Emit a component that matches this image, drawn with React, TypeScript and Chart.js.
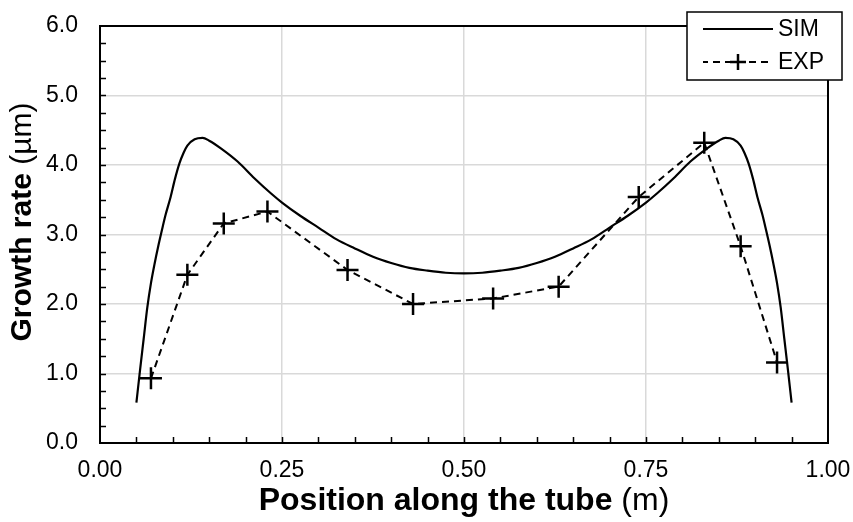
import React, { useEffect, useRef } from "react";
import { Chart, registerables } from "chart.js";

Chart.register(...registerables);

// ---- Data ----
const SIM_X = [
  0.05, 0.055, 0.06, 0.065, 0.07, 0.075, 0.08, 0.085, 0.09, 0.097, 0.103, 0.109, 0.115, 0.12, 0.13, 0.141,
  0.15, 0.166, 0.189, 0.212, 0.235, 0.25, 0.275, 0.3, 0.325, 0.35, 0.375, 0.4, 0.425, 0.45, 0.475, 0.5,
  0.525, 0.55, 0.575, 0.6, 0.625, 0.65, 0.675, 0.7, 0.725, 0.75, 0.765, 0.788, 0.811, 0.834, 0.85, 0.859,
  0.87, 0.88, 0.885, 0.891, 0.897, 0.903, 0.91, 0.915, 0.92, 0.925, 0.93, 0.935, 0.94, 0.945, 0.95,
];
const SIM_Y = [
  0.58, 1.05, 1.5, 1.95, 2.3, 2.58, 2.83, 3.06, 3.28, 3.54, 3.8, 4.02, 4.18, 4.28, 4.37, 4.39,
  4.35, 4.24, 4.05, 3.81, 3.59, 3.46, 3.27, 3.1, 2.93, 2.8, 2.68, 2.59, 2.52, 2.48, 2.45, 2.44,
  2.45, 2.48, 2.52, 2.59, 2.68, 2.8, 2.93, 3.1, 3.27, 3.46, 3.59, 3.81, 4.05, 4.24, 4.35, 4.39,
  4.37, 4.28, 4.18, 4.02, 3.8, 3.54, 3.28, 3.06, 2.83, 2.58, 2.3, 1.95, 1.5, 1.05, 0.58,
];
const EXP_X = [0.07, 0.12, 0.17, 0.23, 0.34, 0.43, 0.54, 0.63, 0.74, 0.83, 0.88, 0.93];
const EXP_Y = [0.93, 2.42, 3.16, 3.33, 2.49, 2.0, 2.08, 2.25, 3.54, 4.32, 2.83, 1.16];

const SERIES_NAMES = ["SIM", "EXP"];
const X_TITLE_BOLD = "Position along the tube";
const X_TITLE_UNIT = " (m)";
const Y_TITLE_BOLD = "Growth rate";
const Y_TITLE_UNIT = " (µm)";

const FONT = "'Liberation Sans', Arial, sans-serif";
const TICK_SIZE = 23;
const X_TITLE_SIZE = 32;
const Y_TITLE_SIZE = 30;
const DASH = [7, 5];

const decorPlugin = {
  id: "decor",
  afterDatasetsDraw(chart: any) {
    const { ctx, chartArea: a, scales } = chart;
    const xs = scales.x;
    const ys = scales.y;
    ctx.save();
    ctx.strokeStyle = "#000";
    ctx.lineWidth = 1.5;
    ctx.beginPath();
    for (let i = 1; i < 24; i++) {
      const y = Math.round(ys.getPixelForValue(i * 0.25)) + 0.5;
      ctx.moveTo(a.left, y);
      ctx.lineTo(a.left + 6, y);
    }
    for (let i = 1; i < 20; i++) {
      const x = Math.round(xs.getPixelForValue(i * 0.05)) + 0.5;
      ctx.moveTo(x, a.bottom);
      ctx.lineTo(x, a.bottom - 6);
    }
    ctx.stroke();
    ctx.lineWidth = 2;
    ctx.strokeRect(a.left, a.top, a.right - a.left, a.bottom - a.top);
    ctx.restore();
  },
  afterDraw(chart: any) {
    const { ctx, chartArea: a } = chart;
    ctx.save();
    ctx.fillStyle = "#000";
    ctx.textBaseline = "middle";
    // x title
    ctx.font = `bold ${X_TITLE_SIZE}px ${FONT}`;
    const wb = ctx.measureText(X_TITLE_BOLD).width;
    ctx.font = `${X_TITLE_SIZE}px ${FONT}`;
    const wu = ctx.measureText(X_TITLE_UNIT).width;
    const cx = (a.left + a.right) / 2;
    const sx = cx - (wb + wu) / 2;
    const ty = 501;
    ctx.textAlign = "left";
    ctx.font = `bold ${X_TITLE_SIZE}px ${FONT}`;
    ctx.fillText(X_TITLE_BOLD, sx, ty);
    ctx.font = `${X_TITLE_SIZE}px ${FONT}`;
    ctx.fillText(X_TITLE_UNIT, sx + wb, ty);
    // y title
    ctx.save();
    ctx.translate(23, 222);
    ctx.rotate(-Math.PI / 2);
    ctx.font = `bold ${Y_TITLE_SIZE}px ${FONT}`;
    const yb = ctx.measureText(Y_TITLE_BOLD).width;
    ctx.font = `${Y_TITLE_SIZE}px ${FONT}`;
    const yu = ctx.measureText(Y_TITLE_UNIT).width;
    const s2 = -(yb + yu) / 2;
    ctx.font = `bold ${Y_TITLE_SIZE}px ${FONT}`;
    ctx.fillText(Y_TITLE_BOLD, s2, 0);
    ctx.font = `${Y_TITLE_SIZE}px ${FONT}`;
    ctx.fillText(Y_TITLE_UNIT, s2 + yb, 0);
    ctx.restore();

    // legend
    const lx = 687, ly = 12, lw = 155, lh = 68;
    ctx.fillStyle = "#fff";
    ctx.fillRect(lx, ly, lw, lh);
    ctx.strokeStyle = "#000";
    ctx.lineWidth = 1.5;
    ctx.strokeRect(lx, ly, lw, lh);
    ctx.fillStyle = "#000";
    ctx.font = `23px ${FONT}`;
    ctx.textAlign = "left";
    const r1 = ly + 17, r2 = ly + 50;
    ctx.lineWidth = 2.2;
    ctx.beginPath();
    ctx.moveTo(703, r1);
    ctx.lineTo(773, r1);
    ctx.stroke();
    ctx.fillText(SERIES_NAMES[0], 778, r1 + 1);
    ctx.lineWidth = 2;
    ctx.setLineDash(DASH);
    ctx.lineDashOffset = 2;
    ctx.beginPath();
    ctx.moveTo(703, r2);
    ctx.lineTo(773, r2);
    ctx.stroke();
    ctx.setLineDash([]);
    ctx.lineWidth = 2.5;
    ctx.beginPath();
    ctx.moveTo(730, r2);
    ctx.lineTo(746, r2);
    ctx.moveTo(738, r2 - 8);
    ctx.lineTo(738, r2 + 8);
    ctx.stroke();
    ctx.fillText(SERIES_NAMES[1], 778, r2 + 1);
    ctx.restore();
  },
};

export default function App() {
  const ref = useRef<HTMLCanvasElement>(null);
  useEffect(() => {
    if (!ref.current) return;
    const chart = new Chart(ref.current, {
      type: "scatter",
      data: {
        datasets: [
          {
            label: SERIES_NAMES[0],
            data: SIM_X.map((x, i) => ({ x, y: SIM_Y[i] })),
            showLine: true,
            borderColor: "#000",
            borderWidth: 2.2,
            pointRadius: 0,
            cubicInterpolationMode: "monotone",
            fill: false,
          },
          {
            label: SERIES_NAMES[1],
            data: EXP_X.map((x, i) => ({ x, y: EXP_Y[i] })),
            showLine: true,
            borderColor: "#000",
            backgroundColor: "#000",
            borderWidth: 2,
            borderDash: DASH,
            pointStyle: "cross",
            pointRadius: 11,
            pointBorderWidth: 2.5,
            pointBorderColor: "#000",
            tension: 0,
            fill: false,
          },
        ],
      },
      options: {
        responsive: false,
        animation: false,
        layout: { padding: { left: 0, top: 26, right: 25, bottom: 0 } },
        plugins: { legend: { display: false }, tooltip: { enabled: false } },
        scales: {
          x: {
            type: "linear",
            min: 0,
            max: 1,
            afterFit: (s: any) => {
              s.height = 79;
              s.paddingLeft = 0;
              s.paddingRight = 0;
            },
            ticks: {
              stepSize: 0.25,
              callback: (v: any) => Number(v).toFixed(2),
              color: "#000",
              font: { family: FONT, size: TICK_SIZE },
              padding: 14,
              maxRotation: 0,
            },
            grid: { color: "#d9d9d9", lineWidth: 1.5, drawTicks: false },
            border: { display: false },
          },
          y: {
            type: "linear",
            min: 0,
            max: 6,
            afterFit: (s: any) => {
              s.width = 100;
              s.paddingTop = 0;
              s.paddingBottom = 0;
            },
            ticks: {
              stepSize: 1,
              callback: (v: any) => Number(v).toFixed(1),
              color: "#000",
              font: { family: FONT, size: TICK_SIZE },
              padding: 22,
            },
            grid: { color: "#d9d9d9", lineWidth: 1.5, drawTicks: false },
            border: { display: false },
          },
        },
      },
      plugins: [decorPlugin],
    });
    return () => chart.destroy();
  }, []);
  return (
    <div style={{ position: "fixed", left: 0, top: 0, width: 853, height: 522, background: "#fff" }}>
      <canvas ref={ref} width={853} height={522} style={{ display: "block" }} />
    </div>
  );
}
